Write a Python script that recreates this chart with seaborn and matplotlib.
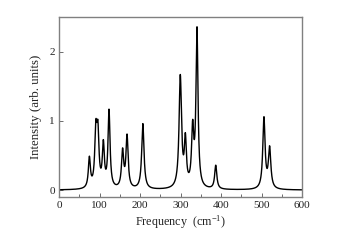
import numpy as np
import pandas as pd
import seaborn as sns
import matplotlib
matplotlib.use("Agg")
import matplotlib.pyplot as plt

# Peak data
peak_pos = [75, 91, 96, 109.5, 123.5, 157, 168, 207, 299.5, 312, 330, 340.7, 387, 506, 520]
peak_height = [0.49, 1.02, 1.01, 0.73, 1.17, 0.61, 0.81, 0.96, 1.67, 0.83, 1.02, 2.36, 0.36, 1.06, 0.64]
peak_hwhm = [3.0, 3.2, 3.2, 3.0, 3.0, 3.2, 3.2, 3.4, 3.6, 3.0, 3.2, 3.0, 3.2, 3.4, 3.6]
x_ticks = [0, 100, 200, 300, 400, 500, 600]
y_ticks = [0, 1, 2]

freq = np.linspace(0, 600, 3001)
P = np.array(peak_pos); W = np.array(peak_hwhm); H = np.array(peak_height)
def lor(x, p, w):
    return 1.0 / (1.0 + ((x - p) / w) ** 2)
M = lor(P[:, None], P[None, :], W[None, :])
amps = np.linalg.solve(M, H)
inten = (amps[None, :] * lor(freq[:, None], P[None, :], W[None, :])).sum(axis=1)
df = pd.DataFrame({"Frequency": freq, "Intensity": inten})

sns.set_theme(style="ticks")
plt.rcParams['font.family'] = ['Liberation Serif', 'DejaVu Serif']
plt.rcParams['mathtext.fontset'] = 'custom'
plt.rcParams['mathtext.rm'] = 'Liberation Serif'
plt.rcParams['mathtext.it'] = 'Liberation Serif:italic'
fig = plt.figure(figsize=(3.38, 2.41), dpi=100)
ax = fig.add_axes([59/338, 44/241, 243/338, 180/241])
sns.lineplot(data=df, x="Frequency", y="Intensity", ax=ax, color="black", lw=1.0)
ax.set_xlim(0, 600)
ax.set_ylim(-0.1, 2.5)
ax.set_xticks(x_ticks)
ax.set_xticks(range(50, 600, 100), minor=True)
ax.set_yticks(y_ticks)
ax.tick_params(direction="in", length=3, width=0.6, color="#555555", labelsize=8, pad=3, labelcolor="#222222")
ax.tick_params(which="minor", direction="in", length=2, width=0.6, color="#555555")
for s in ax.spines.values():
    s.set_color("#808080"); s.set_linewidth(1.0)
ax.set_xlabel("Frequency  (cm$^{\\mathrm{-1}}$)", fontsize=8.7, color="#222222", labelpad=2)
ax.set_ylabel("Intensity (arb. units)", fontsize=9.3, color="#222222", labelpad=5)
fig.savefig("out.png", dpi=100)
